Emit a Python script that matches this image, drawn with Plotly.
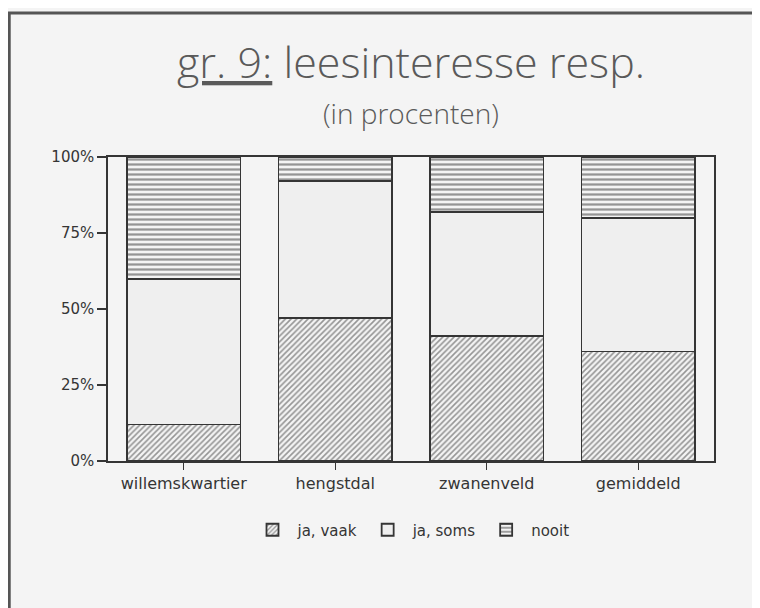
import plotly.graph_objects as go

wijken = ["willemskwartier", "hengstdal", "zwanenveld", "gemiddeld"]
ja_vaak = [12, 47, 41, 36]
ja_soms = [48, 45, 41, 44]
nooit = [40, 8, 18, 20]
y_ticks = [0, 25, 50, 75, 100]
y_labels = ["0%", "25%", "50%", "75%", "100%"]

bg = "#f4f4f4"
ink = "#353535"

fig = go.Figure()
fig.add_trace(go.Bar(x=wijken, y=ja_vaak, name="ja, vaak",
                     marker=dict(color=bg, line=dict(color=ink, width=1.8),
                                 pattern=dict(shape="/", fgcolor=ink, bgcolor=bg, size=4, solidity=0.4))))
fig.add_trace(go.Bar(x=wijken, y=ja_soms, name="ja, soms",
                     marker=dict(color="#efefef", line=dict(color=ink, width=1.8))))
fig.add_trace(go.Bar(x=wijken, y=nooit, name="nooit",
                     marker=dict(color=bg, line=dict(color=ink, width=1.8),
                                 pattern=dict(shape="-", fgcolor=ink, bgcolor=bg, size=5, solidity=0.45))))

# page body adds 8px, so the figure is 8px smaller than the window
fig.update_layout(
    barmode="stack",
    bargap=0.25,
    width=752, height=600,
    margin=dict(l=100, r=46, t=149, b=147),
    paper_bgcolor=bg, plot_bgcolor=bg,
    font=dict(family="DejaVu Sans", color=ink, size=15),
    showlegend=True,
    legend=dict(orientation="h", x=0.5, xanchor="center", y=-0.227, yanchor="middle",
                font=dict(size=15), traceorder="normal", itemwidth=40),
)
fig.update_yaxes(range=[0, 100], tickvals=y_ticks, ticktext=y_labels,
                 ticks="outside", ticklen=9, tickcolor=ink, tickwidth=1.5, showgrid=False,
                 showline=True, linecolor=ink, linewidth=1.5, mirror=True, zeroline=False,
                 tickfont=dict(size=15))
fig.update_xaxes(ticks="outside", ticklen=7, tickcolor=ink, showgrid=False,
                 showline=True, linecolor=ink, linewidth=1.5, mirror=True,
                 tickfont=dict(size=16))

fig.add_annotation(text="<u>gr. 9:</u> leesinteresse resp.", xref="paper", yref="paper",
                   x=0.5, y=1.315, xanchor="center", yanchor="middle", showarrow=False,
                   font=dict(family="Open Sans, Liberation Sans", size=43, color="#5a5a5a", weight=300))
fig.add_annotation(text="(in procenten)", xref="paper", yref="paper",
                   x=0.5, y=1.145, xanchor="center", yanchor="middle", showarrow=False,
                   font=dict(family="Open Sans, Liberation Sans", size=28, color="#5a5a5a", weight=300))

# outer frame of the scanned page
fig.add_shape(type="rect", xref="paper", yref="paper", x0=-0.163, x1=1.2, y0=-0.9, y1=1.474,
              line=dict(color="#555555", width=3), fillcolor="rgba(0,0,0,0)")

fig.write_html("out.html")
